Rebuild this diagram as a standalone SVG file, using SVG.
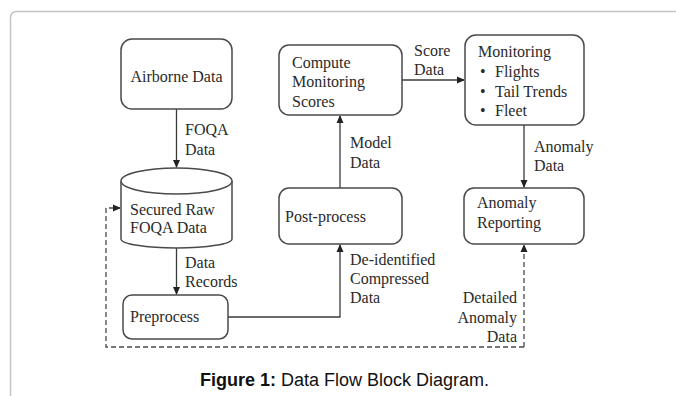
<svg xmlns="http://www.w3.org/2000/svg" width="676" height="396" viewBox="0 0 676 396">
<style>
.frame{fill:none;stroke:#c4c4c4;stroke-width:1.5}
.box{fill:#fff;stroke:#4a4a4a;stroke-width:1.5}
.t{font-family:"Liberation Serif","Times New Roman",serif;font-size:16px;fill:#2a2a2a}
.ln{fill:none;stroke:#3a3a3a;stroke-width:1.3}
.dash{fill:none;stroke:#4a4a4a;stroke-width:1.3;stroke-dasharray:5,3}
.cap{font-family:"Liberation Sans",Arial,sans-serif;font-size:18px;fill:#111}
</style>
<defs>
<marker id="ah" markerWidth="8" markerHeight="8" refX="7" refY="4" orient="auto" markerUnits="userSpaceOnUse">
<path d="M0,0.5 L8,4 L0,7.5 Z" fill="#222"/>
</marker>
</defs>
<rect width="676" height="396" fill="#fff"/>
<path class="frame" d="M10.5,396 L10.5,18 Q10.5,11.5 17,11.5 L676,11.5"/>
<g id="connectors">
<line class="ln" x1="176.5" y1="109" x2="176.5" y2="167" marker-end="url(#ah)"/>
<line class="ln" x1="176.5" y1="247" x2="176.5" y2="294" marker-end="url(#ah)"/>
<polyline class="ln" points="228,317 340,317 340,245" marker-end="url(#ah)"/>
<line class="ln" x1="340" y1="188" x2="340" y2="116" marker-end="url(#ah)"/>
<line class="ln" x1="402" y1="80" x2="464" y2="80" marker-end="url(#ah)"/>
<line class="ln" x1="524" y1="125" x2="524" y2="187" marker-end="url(#ah)"/>
<polyline class="dash" points="524,347 524,245" marker-end="url(#ah)"/>
<polyline class="dash" points="524,347 106,347 106,208 120,208" marker-end="url(#ah)"/>
<g class="t">
<text x="185" y="135">FOQA</text>
<text x="185" y="155">Data</text>
<text x="185" y="268">Data</text>
<text x="185" y="287">Records</text>
<text x="350" y="148">Model</text>
<text x="350" y="168">Data</text>
<text x="350" y="265">De-identified</text>
<text x="350" y="284">Compressed</text>
<text x="350" y="303">Data</text>
<text x="414" y="56">Score</text>
<text x="414" y="75">Data</text>
<text x="534" y="152">Anomaly</text>
<text x="534" y="171">Data</text>
<text x="517" y="303" text-anchor="end">Detailed</text>
<text x="517" y="323" text-anchor="end">Anomaly</text>
<text x="517" y="342" text-anchor="end">Data</text>
</g>
</g>
<g id="airborne">
<rect class="box" x="121" y="39" width="111" height="70" rx="11"/>
<text class="t" x="176.5" y="82" text-anchor="middle">Airborne Data</text>
</g>
<g id="secured">
<path class="box" d="M121,181 L121,239 A55.5,9 0 0 0 232,239 L232,181"/>
<ellipse class="box" cx="176.5" cy="181" rx="55.5" ry="13"/>
<text class="t" x="130" y="215">Secured Raw</text>
<text class="t" x="130" y="233">FOQA Data</text>
</g>
<g id="preprocess">
<rect class="box" x="123" y="295" width="105" height="44" rx="9"/>
<text class="t" x="130" y="322">Preprocess</text>
</g>
<g id="postprocess">
<rect class="box" x="279" y="188" width="123" height="56" rx="10"/>
<text class="t" x="285" y="222">Post-process</text>
</g>
<g id="compute">
<rect class="box" x="279" y="45" width="123" height="70" rx="10"/>
<text class="t" x="292" y="68">Compute</text>
<text class="t" x="292" y="87">Monitoring</text>
<text class="t" x="292" y="107">Scores</text>
</g>
<g id="monitoring">
<rect class="box" x="465" y="35" width="119" height="90" rx="11"/>
<text class="t" x="478" y="57">Monitoring</text>
<text class="t" x="480" y="77">•</text>
<text class="t" x="495" y="77">Flights</text>
<text class="t" x="480" y="97">•</text>
<text class="t" x="495" y="97">Tail Trends</text>
<text class="t" x="480" y="116">•</text>
<text class="t" x="495" y="116">Fleet</text>
</g>
<g id="anomaly">
<rect class="box" x="464" y="188" width="120" height="56" rx="10"/>
<text class="t" x="477" y="208">Anomaly</text>
<text class="t" x="477" y="228">Reporting</text>
</g>
<text class="cap" x="200" y="386"><tspan font-weight="bold">Figure 1:</tspan> Data Flow Block Diagram.</text>
</svg>
